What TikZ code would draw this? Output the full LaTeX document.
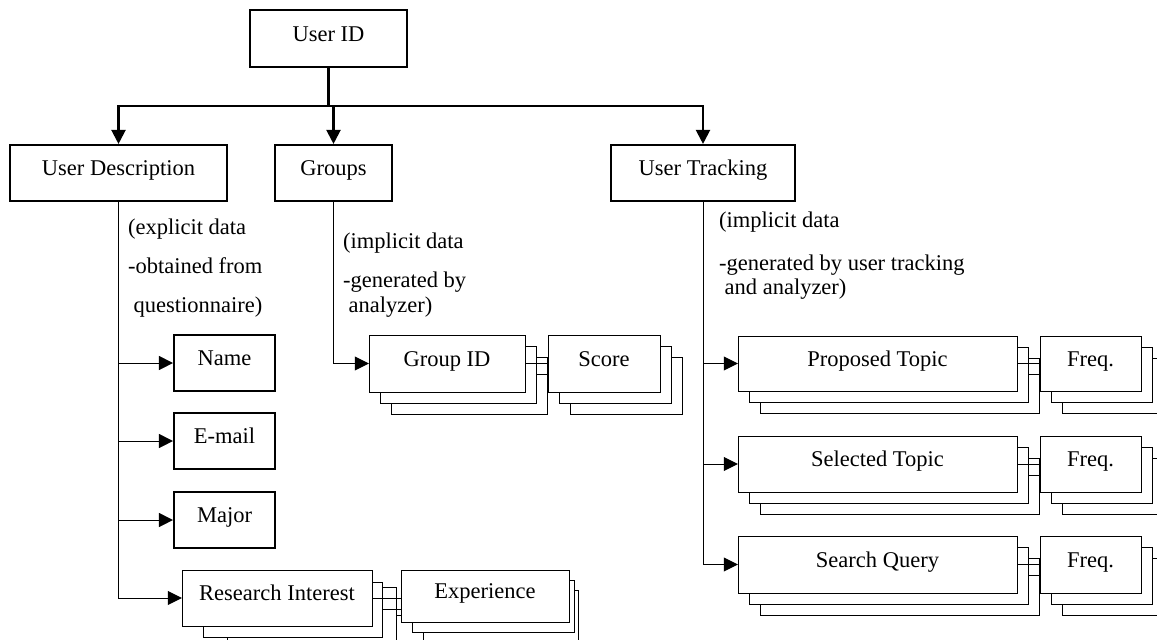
\documentclass[tikz,border=0pt]{standalone}
\usepackage{fontspec}
\setmainfont{Liberation Serif}
\usetikzlibrary{arrows.meta}
\pgfdeclarelayer{lower}
\pgfdeclarelayer{upper}
\pgfsetlayers{lower,main,upper}
% three stacked records, back layer first; #7 = offset between layers
\newcommand\layered[7]{%
  \node[rec, minimum width=#4, minimum height=#5] (#1-3) at (#2+2*#7,#3+#7+#7) {};
  \node[rec, minimum width=#4, minimum height=#5] (#1-2) at (#2+#7,#3+#7) {};
  \node[rec, minimum width=#4, minimum height=#5] (#1) at (#2,#3) {#6};}
\begin{document}
\begin{tikzpicture}[x=1pt,y=-1pt,
  line width=2.1pt,
  rec/.style={draw, fill=white, inner sep=0pt, text height=10pt, text depth=5pt,
    font=\fontsize{22.5}{26}\selectfont},
  note/.style={inner sep=0pt, anchor=base west, font=\fontsize{22.5}{26}\selectfont},
  arr/.style={-{Triangle[length=14pt,width=14pt]}},
]
\useasboundingbox (0,0) rectangle (1157,640);
\clip (0,0) rectangle (1157,640);

% top level
\node[rec, minimum width=157, minimum height=57] (uid) at (328.5,38.5) {User ID};
\node[rec, minimum width=217, minimum height=56] (ud)  at (118.5,173) {User Description};
\node[rec, minimum width=117, minimum height=56] (grp) at (333.5,173) {Groups};
\node[rec, minimum width=184, minimum height=56] (ut)  at (703,173) {User Tracking};

\coordinate (j) at (328.5,106);
\draw (uid.south) -- (j);
\draw[arr] (j) -| (ud.north);
\draw[arr] (j) -| (ut.north);
\draw[arr] (grp.north |- j) -- (grp.north);

% notes
\node[note] (n1) at (127,234) {(explicit data};
\node[note] (n2) at (127,273) {-obtained from};
\node[note] (n3) at (127,312) {\ questionnaire)};
\node[note] (g1) at (342,248) {(implicit data};
\node[note] (g2) at (342,287) {-generated by};
\node[note] (g3) at (342,312) {\ analyzer)};
\node[note] (t1) at (718,227) {(implicit data};
\node[note] (t2) at (718,270) {-generated by user tracking};
\node[note] (t3) at (718,294) {\ and analyzer)};

% explicit data
\node[rec, minimum width=101, minimum height=56] (name)  at (224.5,363) {Name};
\node[rec, minimum width=101, minimum height=56] (email) at (224.5,441) {E-mail};
\node[rec, minimum width=101, minimum height=56] (major) at (224.5,520) {Major};

% stacked records: left ones below the links, right ones above
\begin{pgfonlayer}{lower}
  \node[rec, minimum width=169, minimum height=56] (ri-3) at (311.5,615) {};
  \node[rec, minimum width=179, minimum height=55] (ri-2) at (292.5,609.5) {};
  \node[rec, minimum width=190, minimum height=56] (ri) at (277,598) {Research Interest};
  \layered{gid}{447}{363.5}{156}{57}{Group ID}{11}
  \layered{pt}{877.5}{363.5}{279}{55}{Proposed Topic}{11}
  \layered{st}{877.5}{464}{279}{56}{Selected Topic}{11}
  \layered{sq}{877.5}{564.5}{279}{57}{Search Query}{11}
\end{pgfonlayer}
\begin{pgfonlayer}{upper}
  \node[rec, minimum width=155, minimum height=52] (exp-3) at (500.5,616) {};
  \node[rec, minimum width=162, minimum height=52] (exp-2) at (493,606) {};
  \node[rec, minimum width=168, minimum height=52] (exp) at (485,596) {Experience};
  \layered{sc}{604}{363.5}{112}{57}{Score}{11}
  \layered{fa}{1090.5}{363.5}{101}{55}{Freq.}{11}
  \layered{fb}{1090.5}{464}{101}{56}{Freq.}{11}
  \layered{fc}{1090.5}{564.5}{101}{57}{Freq.}{11}
\end{pgfonlayer}

\foreach \a/\b in {ri/exp, gid/sc, pt/fa, st/fb, sq/fc}{
  \draw (\a.east) -- (\a.east -| \b.west);
  \draw (\a-2.east) -- (\a-2.east -| \b-2.west);
  \draw (\a-3.east) -- (\a-3.east -| \b-3.west);
}

% branches
\draw[arr] (ud.south) |- (name.west);
\draw[arr] (ud.south) |- (email.west);
\draw[arr] (ud.south) |- (major.west);
\draw[arr] (ud.south) |- (ri.west);
\draw[arr] (grp.south) |- (gid.west);
\draw[arr] (ut.south) |- (pt.west);
\draw[arr] (ut.south) |- (st.west);
\draw[arr] (ut.south) |- (sq.west);
\end{tikzpicture}
\end{document}
